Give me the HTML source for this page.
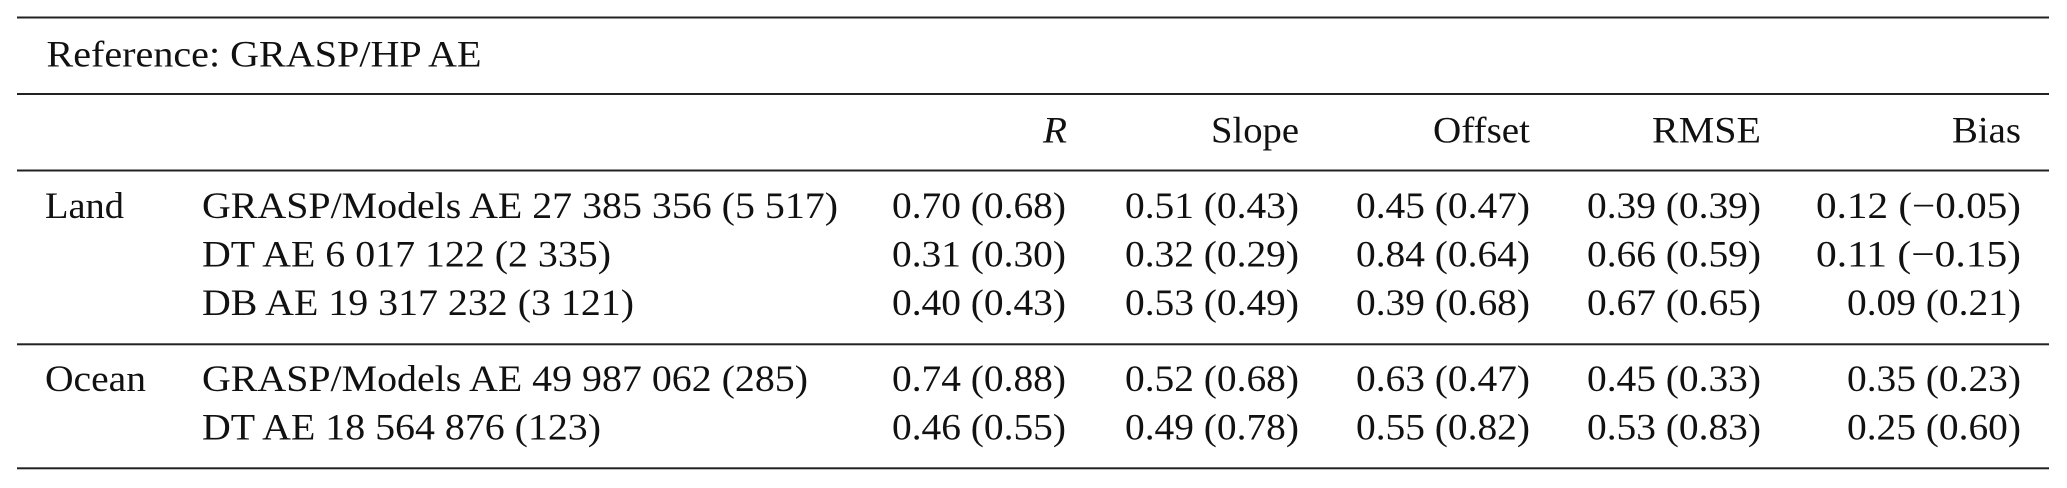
<!DOCTYPE html>
<html>
<head>
<meta charset="utf-8">
<style>
  html, body { margin: 0; padding: 0; background: #ffffff; }
  body { width: 2067px; height: 488px; overflow: hidden; }
  svg { display: block; }
  text { font-family: "Liberation Serif", "Times New Roman", serif; font-size: 37px; fill: #111; }
</style>
</head>
<body>
<svg width="2067" height="488" viewBox="0 0 2067 488" xmlns="http://www.w3.org/2000/svg">
  <rect x="0" y="0" width="2067" height="488" fill="#ffffff"/>
  <!-- rules -->
  <rect x="17" y="16.5" width="2032" height="2" fill="#222"/>
  <rect x="17" y="93" width="2032" height="2" fill="#222"/>
  <rect x="17" y="169.5" width="2032" height="2" fill="#222"/>
  <rect x="17" y="343.3" width="2032" height="2" fill="#222"/>
  <rect x="17" y="467.3" width="2032" height="2" fill="#222"/>

  <!-- title -->
  <text x="46.5" y="66.5" textLength="435" lengthAdjust="spacingAndGlyphs">Reference: GRASP/HP AE</text>

  <!-- header -->
  <text x="1043" y="142.5" font-style="italic" textLength="24" lengthAdjust="spacingAndGlyphs">R</text>
  <text x="1211" y="142.5" textLength="88" lengthAdjust="spacingAndGlyphs">Slope</text>
  <text x="1433" y="142.5" textLength="97" lengthAdjust="spacingAndGlyphs">Offset</text>
  <text x="1652" y="142.5" textLength="109" lengthAdjust="spacingAndGlyphs">RMSE</text>
  <text x="1952" y="142.5" textLength="69" lengthAdjust="spacingAndGlyphs">Bias</text>

  <!-- Land -->
  <text x="45" y="218" textLength="79" lengthAdjust="spacingAndGlyphs">Land</text>
  <text x="202" y="218" textLength="636" lengthAdjust="spacingAndGlyphs">GRASP/Models AE 27 385 356 (5 517)</text>
  <text x="892" y="218" textLength="174" lengthAdjust="spacingAndGlyphs">0.70 (0.68)</text>
  <text x="1125" y="218" textLength="174" lengthAdjust="spacingAndGlyphs">0.51 (0.43)</text>
  <text x="1356" y="218" textLength="174" lengthAdjust="spacingAndGlyphs">0.45 (0.47)</text>
  <text x="1587" y="218" textLength="174" lengthAdjust="spacingAndGlyphs">0.39 (0.39)</text>
  <text x="1816" y="218" textLength="205" lengthAdjust="spacingAndGlyphs">0.12 (−0.05)</text>

  <text x="202" y="266.5" textLength="409" lengthAdjust="spacingAndGlyphs">DT AE 6 017 122 (2 335)</text>
  <text x="892" y="266.5" textLength="174" lengthAdjust="spacingAndGlyphs">0.31 (0.30)</text>
  <text x="1125" y="266.5" textLength="174" lengthAdjust="spacingAndGlyphs">0.32 (0.29)</text>
  <text x="1356" y="266.5" textLength="174" lengthAdjust="spacingAndGlyphs">0.84 (0.64)</text>
  <text x="1587" y="266.5" textLength="174" lengthAdjust="spacingAndGlyphs">0.66 (0.59)</text>
  <text x="1816" y="266.5" textLength="205" lengthAdjust="spacingAndGlyphs">0.11 (−0.15)</text>

  <text x="202" y="315" textLength="432" lengthAdjust="spacingAndGlyphs">DB AE 19 317 232 (3 121)</text>
  <text x="892" y="315" textLength="174" lengthAdjust="spacingAndGlyphs">0.40 (0.43)</text>
  <text x="1125" y="315" textLength="174" lengthAdjust="spacingAndGlyphs">0.53 (0.49)</text>
  <text x="1356" y="315" textLength="174" lengthAdjust="spacingAndGlyphs">0.39 (0.68)</text>
  <text x="1587" y="315" textLength="174" lengthAdjust="spacingAndGlyphs">0.67 (0.65)</text>
  <text x="1847" y="315" textLength="174" lengthAdjust="spacingAndGlyphs">0.09 (0.21)</text>

  <!-- Ocean -->
  <text x="45" y="391" textLength="101" lengthAdjust="spacingAndGlyphs">Ocean</text>
  <text x="202" y="391" textLength="606" lengthAdjust="spacingAndGlyphs">GRASP/Models AE 49 987 062 (285)</text>
  <text x="892" y="391" textLength="174" lengthAdjust="spacingAndGlyphs">0.74 (0.88)</text>
  <text x="1125" y="391" textLength="174" lengthAdjust="spacingAndGlyphs">0.52 (0.68)</text>
  <text x="1356" y="391" textLength="174" lengthAdjust="spacingAndGlyphs">0.63 (0.47)</text>
  <text x="1587" y="391" textLength="174" lengthAdjust="spacingAndGlyphs">0.45 (0.33)</text>
  <text x="1847" y="391" textLength="174" lengthAdjust="spacingAndGlyphs">0.35 (0.23)</text>

  <text x="202" y="439.5" textLength="399" lengthAdjust="spacingAndGlyphs">DT AE 18 564 876 (123)</text>
  <text x="892" y="439.5" textLength="174" lengthAdjust="spacingAndGlyphs">0.46 (0.55)</text>
  <text x="1125" y="439.5" textLength="174" lengthAdjust="spacingAndGlyphs">0.49 (0.78)</text>
  <text x="1356" y="439.5" textLength="174" lengthAdjust="spacingAndGlyphs">0.55 (0.82)</text>
  <text x="1587" y="439.5" textLength="174" lengthAdjust="spacingAndGlyphs">0.53 (0.83)</text>
  <text x="1847" y="439.5" textLength="174" lengthAdjust="spacingAndGlyphs">0.25 (0.60)</text>
</svg>
</body>
</html>
